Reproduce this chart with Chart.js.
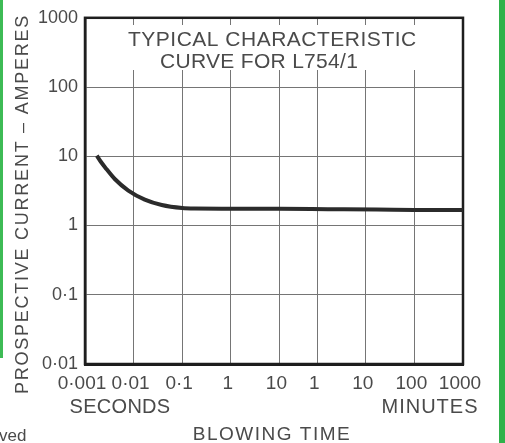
<!DOCTYPE html>
<html>
<head>
<meta charset="utf-8">
<script src="https://cdn.jsdelivr.net/npm/chart.js@4.4.1/dist/chart.umd.min.js"></script>
<style>
  html, body { margin: 0; padding: 0; background: #ffffff; }
  #wrap { position: relative; width: 505px; height: 443px; overflow: hidden; }
  #greenL { position: absolute; left: 0; top: 0; width: 3px; height: 358px; background: #3dbb55; }
  #greenR { position: absolute; left: 499px; top: 0; width: 6px; height: 443px; background: #2fb24a; }
  canvas { position: absolute; left: 0; top: 0; }
</style>
</head>
<body>
<div id="wrap">
  <canvas id="c" width="505" height="443"></canvas>
  <div id="greenL"></div>
  <div id="greenR"></div>
</div>
<script>
// ---- data ----
const timeSec = [0.00175, 0.0021, 0.0026, 0.0041, 0.0078, 0.017, 0.038, 0.1, 0.18, 1, 10, 100, 1000, 6000, 60000];
const currentA = [10.2, 8.4, 6.9, 4.7, 3.2, 2.37, 1.98, 1.79, 1.76, 1.75, 1.74, 1.72, 1.70, 1.68, 1.67];

const xTickValues = [0.001, 0.01, 0.1, 1, 10, 60, 600, 6000, 60000];
const xTickLabels = ['0·001', '0·01', '0·1', '1', '10', '1', '10', '100', '1000'];
const yTickValues = [0.01, 0.1, 1, 10, 100, 1000];
const yTickLabels = ['0·01', '0·1', '1', '10', '100', '1000'];

const titleLines = ['TYPICAL CHARACTERISTIC', 'CURVE FOR L754/1'];
const yTitle = 'PROSPECTIVE CURRENT – AMPERES';
const xTitle = 'BLOWING TIME';
const unitLeft = 'SECONDS';
const unitRight = 'MINUTES';
const fragment = 'ved';

const INK = '#4a4a4a';
const FONT = '"Liberation Sans", Arial, sans-serif';

const points = timeSec.map((t, i) => ({ x: t, y: currentA[i] }));

function txt(ctx, s, x, y, size, align, ls) {
  ctx.save();
  ctx.font = size + 'px ' + FONT;
  ctx.fillStyle = INK;
  ctx.textBaseline = 'alphabetic';
  ctx.letterSpacing = (ls || 0) + 'px';
  let w = ctx.measureText(s).width;
  let x0 = x;
  if (align === 'center') x0 = x - w / 2;
  ctx.textAlign = 'left';
  ctx.fillText(s, x0, y);
  ctx.restore();
}

const decor = {
  id: 'decor',
  beforeDatasetsDraw(chart) {
    const ctx = chart.ctx;
    const a = chart.chartArea;
    // white box behind the title
    ctx.save();
    ctx.fillStyle = '#ffffff';
    ctx.fillRect(110, 25, 332, 45);
    ctx.restore();
    txt(ctx, titleLines[0], 128, 46, 21, 'left', 0.5);
    txt(ctx, titleLines[1], 160, 68, 21, 'left', 0.3);
    // frame
    ctx.save();
    ctx.strokeStyle = '#1e1e1e';
    ctx.lineWidth = 2.5;
    ctx.strokeRect(a.left, a.top, a.right - a.left, a.bottom - a.top);
    ctx.restore();
  },
  afterDraw(chart) {
    const ctx = chart.ctx;
    txt(ctx, unitLeft, 120, 413, 20, 'center', 0.3);
    txt(ctx, unitRight, 430, 413, 20, 'center', 1);
    txt(ctx, xTitle, 272, 440, 19, 'center', 1.5);
    txt(ctx, fragment, -1, 441, 17, 'left', 0);
    // y title rotated
    ctx.save();
    ctx.translate(28, 204);
    ctx.rotate(-Math.PI / 2);
    txt(ctx, yTitle, 0, 0, 18, 'center', 1.75);
    ctx.restore();
  }
};

new Chart(document.getElementById('c'), {
  type: 'line',
  data: {
    datasets: [{
      data: points,
      borderColor: '#2b2b2b',
      borderWidth: 4,
      pointRadius: 0,
      fill: false,
      cubicInterpolationMode: 'monotone'
    }]
  },
  options: {
    responsive: false,
    animation: false,
    devicePixelRatio: 1,
    layout: { padding: { top: 14, right: 42, left: 0, bottom: 0 } },
    plugins: { legend: { display: false }, tooltip: { enabled: false }, title: { display: false } },
    scales: {
      x: {
        type: 'logarithmic',
        min: 0.001,
        max: 60000,
        afterBuildTicks: s => { s.ticks = xTickValues.map(v => ({ value: v })); },
        afterFit: s => { s.height = 79; },
        ticks: {
          autoSkip: false, maxRotation: 0, minRotation: 0, padding: 8, labelOffset: -3,
          color: INK, font: { family: FONT, size: 19 },
          callback: (v, i) => xTickLabels[i]
        },
        grid: { color: '#757575', lineWidth: 1, drawTicks: false },
        border: { color: '#1e1e1e', width: 3 }
      },
      y: {
        type: 'logarithmic',
        min: 0.01,
        max: 1000,
        afterBuildTicks: s => { s.ticks = yTickValues.map(v => ({ value: v })); },
        afterFit: s => { s.width = 85; },
        ticks: {
          autoSkip: false, padding: 7,
          color: INK, font: { family: FONT, size: 18 },
          callback: (v, i) => yTickLabels[i]
        },
        grid: { color: '#757575', lineWidth: 1, drawTicks: false },
        border: { color: '#1e1e1e', width: 2.5 }
      }
    }
  },
  plugins: [decor]
});
</script>
</body>
</html>
